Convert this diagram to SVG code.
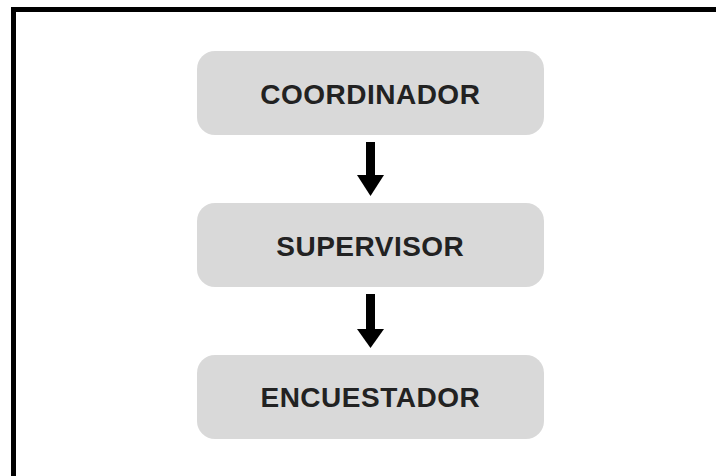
<svg xmlns="http://www.w3.org/2000/svg" width="716" height="476" viewBox="0 0 716 476">
<defs>
<style>
.box{fill:#d9d9d9;}
.lbl{font-family:"Liberation Sans",Arial,sans-serif;font-weight:bold;font-size:28px;letter-spacing:0.5px;fill:#222222;text-anchor:middle;}
.shaft{stroke:#000;stroke-width:9;fill:none;}
.head{fill:#000;}
</style>
</defs>
<rect width="716" height="476" fill="#ffffff"/>
<path d="M13.5,476 V9.5 H716" fill="none" stroke="#000" stroke-width="5"/>
<g id="connectors">
<line class="shaft" x1="370.5" y1="142" x2="370.5" y2="177"/>
<polygon class="head" points="357,175 384,175 370.5,196"/>
<line class="shaft" x1="370.5" y1="294" x2="370.5" y2="331"/>
<polygon class="head" points="357,329 384,329 370.5,348"/>
</g>
<g id="coordinador">
<rect class="box" x="197" y="51" width="347" height="84" rx="18"/>
<text class="lbl" x="370.3" y="103.5">COORDINADOR</text>
</g>
<g id="supervisor">
<rect class="box" x="197" y="203" width="347" height="84" rx="18"/>
<text class="lbl" x="370.3" y="255.5">SUPERVISOR</text>
</g>
<g id="encuestador">
<rect class="box" x="197" y="355" width="347" height="84" rx="18"/>
<text class="lbl" x="370.3" y="407">ENCUESTADOR</text>
</g>
</svg>
